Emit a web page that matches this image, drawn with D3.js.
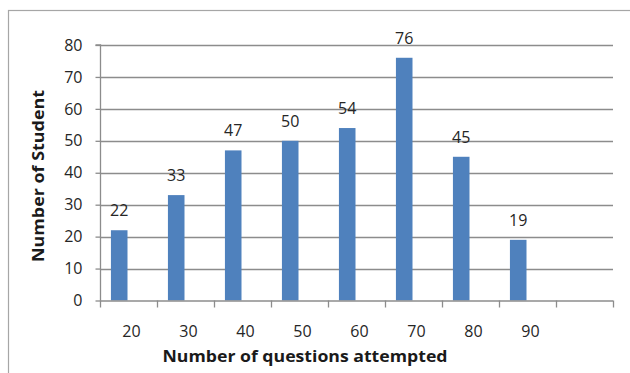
<!DOCTYPE html>
<html><head><meta charset="utf-8">
<script src="https://cdn.jsdelivr.net/npm/d3@7/dist/d3.min.js"></script>
<style>html,body{margin:0;padding:0;background:#fff;}svg{display:block;}</style>
</head><body>
<svg id="c" width="630" height="373"></svg>
<script>
const categories = ["20","30","40","50","60","70","80","90",""];
const values = [22,33,47,50,54,76,45,19,null];
const yTicks = [0,10,20,30,40,50,60,70,80];
const xTitle = "Number of questions attempted";
const yTitle = "Number of Student";

const svg = d3.select("#c");
const m = {left:100, right:613, top:45, bottom:300.5};
const font = "'Open Sans', 'DejaVu Sans', sans-serif";
const fs = 16;

// outer border
svg.append("rect").attr("x",8.5).attr("y",10.5).attr("width",640).attr("height",400)
  .attr("fill","none").attr("stroke","#a6a6a6").attr("stroke-width",1.2);

const x = d3.scaleBand().domain(categories.map((d,i)=>i)).range([m.left,m.right]).paddingInner(0).paddingOuter(0);
const inner = d3.scaleBand().domain(["a","b"]).range([0,x.bandwidth()]).paddingInner(0).paddingOuter(0.72);
const y = d3.scaleLinear().domain([0,80]).range([m.bottom,m.top]);

// gridlines
svg.append("g").selectAll("line").data(yTicks.filter(d=>d>0)).join("line")
  .attr("x1",m.left).attr("x2",m.right)
  .attr("y1",d=>Math.round(y(d))+0.5).attr("y2",d=>Math.round(y(d))+0.5)
  .attr("stroke","#8c8c8c").attr("stroke-width",1.3);

const pts = values.map((v,i)=>({v,i})).filter(d=>d.v!=null);
const bx = d=>x(d.i)+inner("a")-1;
const bw = inner.bandwidth();

// bars
svg.append("g").selectAll("rect").data(pts).join("rect")
  .attr("x",bx).attr("width",bw)
  .attr("y",d=>y(d.v)).attr("height",d=>y(0)-y(d.v))
  .attr("fill","#4f81bd");

// data labels
svg.append("g").selectAll("text").data(pts).join("text")
  .attr("x",d=>bx(d)+bw/2)
  .attr("y",d=>y(d.v)-14)
  .attr("text-anchor","middle").attr("font-family",font).attr("font-size",fs)
  .attr("fill","#262626").text(d=>d.v);

// y axis
const ya = d3.axisLeft(y).tickValues(yTicks).tickSize(5).tickPadding(13);
const gy = svg.append("g").attr("transform",`translate(${m.left+0.5},0)`).call(ya);
gy.select(".domain").attr("stroke","#8c8c8c").attr("stroke-width",1.3).attr("d",`M-5,${m.top}H0V${m.bottom}`);
gy.selectAll(".tick line").attr("stroke","#8c8c8c").attr("stroke-width",1.3);
gy.selectAll(".tick text").attr("font-family",font).attr("font-size",fs).attr("fill","#262626");

// x axis
const xa = d3.axisBottom(x).tickFormat(i=>categories[i]).tickSize(0);
const gx = svg.append("g").attr("transform",`translate(0,${m.bottom})`).call(xa);
gx.select(".domain").attr("stroke","#8c8c8c").attr("stroke-width",1.3).attr("d",`M${m.left},0.5H${m.right}`);
gx.selectAll(".tick text").attr("font-family",font).attr("font-size",fs).attr("fill","#262626")
  .attr("dx",3).attr("y",36.5).attr("dy",0);
// boundary ticks
const bounds = categories.map((d,i)=>x(i)).concat([m.right]);
gx.append("g").selectAll("line").data(bounds).join("line")
  .attr("x1",d=>d+0.5).attr("x2",d=>d+0.5).attr("y1",0).attr("y2",7)
  .attr("stroke","#8c8c8c").attr("stroke-width",1.3);

// titles
svg.append("text").attr("x",305).attr("y",362).attr("text-anchor","middle")
  .attr("font-family",font).attr("font-weight","bold").attr("font-size",16)
  .attr("fill","#1a1a1a").attr("textLength",285).attr("lengthAdjust","spacingAndGlyphs").text(xTitle);
svg.append("text").attr("transform","translate(44,176) rotate(-90)").attr("text-anchor","middle")
  .attr("font-family",font).attr("font-weight","bold").attr("font-size",16)
  .attr("fill","#1a1a1a").attr("textLength",172).attr("lengthAdjust","spacingAndGlyphs").text(yTitle);
</script>
</body></html>
